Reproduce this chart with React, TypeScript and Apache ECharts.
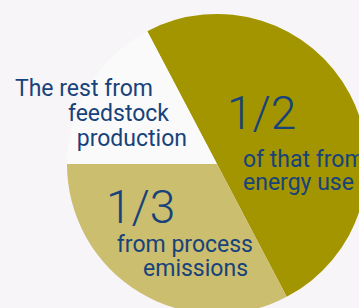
import React, { useEffect, useRef } from "react";
import * as echarts from "echarts";

const sliceNames = ["Energy use", "Process emissions", "Feedstock production"];
const sliceValues = [50, 32.7, 17.3];
const sliceColors = ["#a39500", "#cbbe6f", "#fbfafb"];

const fractionLabels = ["1/2", "1/3"];
const energyLines = ["of that from", "energy use"];
const processLines = ["from process", "emissions"];
const restLines = ["The rest from", "feedstock", "production"];

const TEXT = "#17427a";
const FONT = "Roboto, 'DejaVu Sans', sans-serif";

export default function App() {
  const ref = useRef<HTMLDivElement>(null);
  useEffect(() => {
    document.body.style.margin = "0";
    const chart = echarts.init(ref.current!, null, { renderer: "svg" });
    // y given as the text baseline; converted to top of the text box
    const txt = (text: string, x: number, baseline: number, size: number, weight: any = 400, align: any = "left") => ({
      type: "text",
      x,
      y: Math.round(baseline - size * 0.82),
      z: 10,
      style: {
        text,
        fill: TEXT,
        fontSize: size,
        fontFamily: FONT,
        fontWeight: weight,
        align,
        verticalAlign: "top",
      },
    });
    chart.setOption({
      animation: false,
      backgroundColor: "#f7f5f7",
      series: [
        {
          type: "pie",
          center: [217, 164],
          radius: 150,
          startAngle: 117.7,
          clockwise: true,
          silent: true,
          label: { show: false },
          labelLine: { show: false },
          itemStyle: { borderWidth: 0 },
          data: sliceNames.map((n, i) => ({
            name: n,
            value: sliceValues[i],
            itemStyle: { color: sliceColors[i] },
          })),
        },
      ],
      graphic: [
        txt(restLines[0], 153, 96, 23, 400, "right"),
        txt(restLines[1], 169, 121, 23, 400, "right"),
        txt(restLines[2], 187, 146, 23, 400, "right"),
        txt(fractionLabels[0], 227, 128, 46, 300),
        txt(energyLines[0], 243, 167, 23),
        txt(energyLines[1], 243, 190, 23),
        txt(fractionLabels[1], 106, 222, 46, 300),
        txt(processLines[0], 253, 252, 23, 400, "right"),
        txt(processLines[1], 248, 276, 23, 400, "right"),
      ],
    });
    return () => chart.dispose();
  }, []);
  return <div ref={ref} style={{ width: 359, height: 308 }} />;
}
